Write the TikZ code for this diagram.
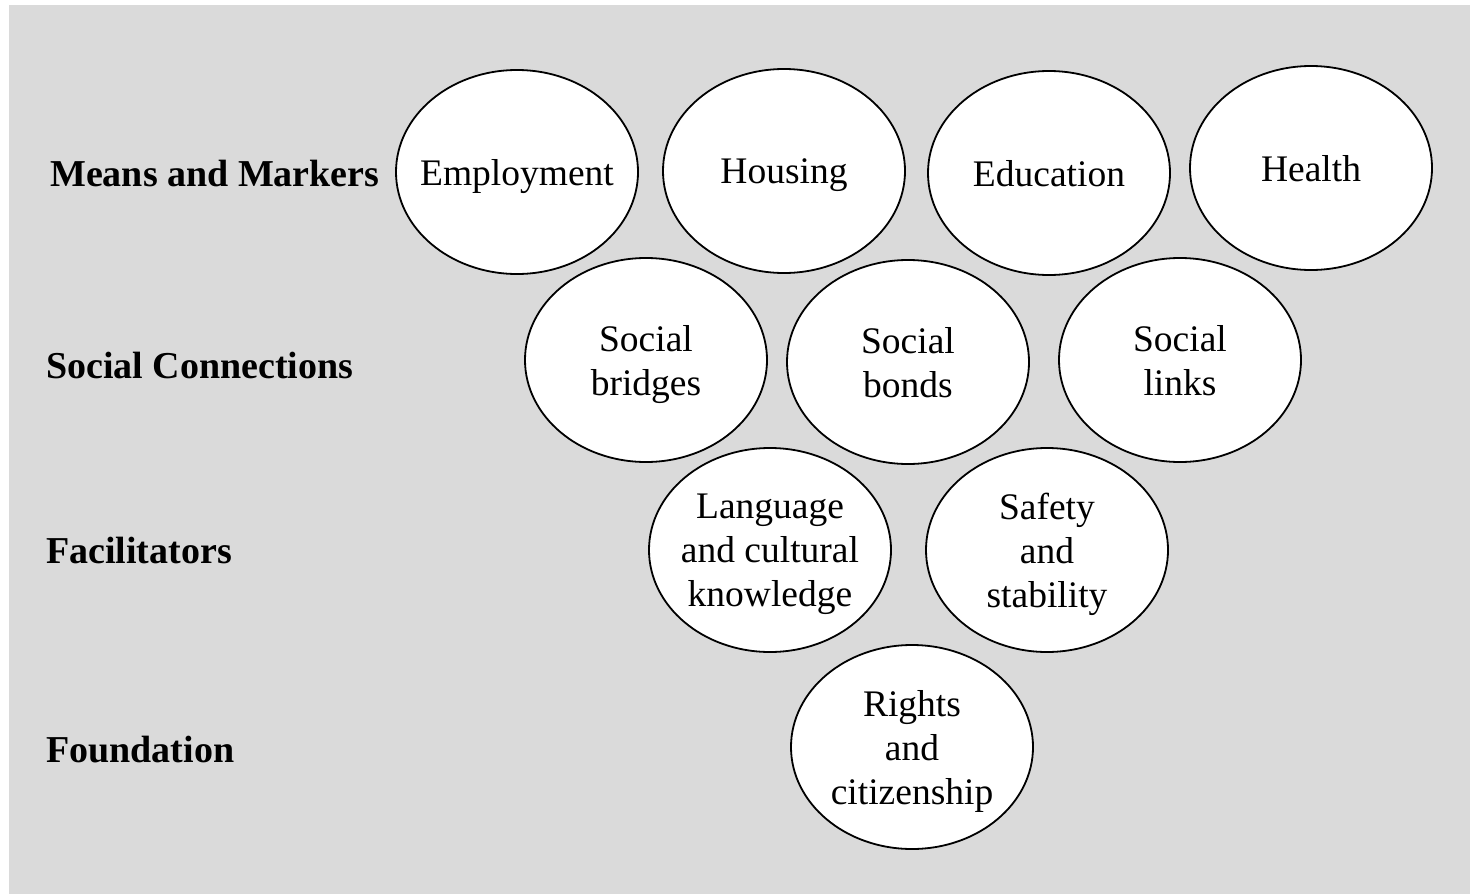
\documentclass[tikz,border=0pt]{standalone}
\usepackage{fontspec}
\setmainfont{Liberation Serif}
\usetikzlibrary{shapes.geometric}
\definecolor{panelgray}{RGB}{218,218,218}

\begin{document}
\begin{tikzpicture}[x=1pt,y=-1pt,
	bubble/.style={draw,ellipse,fill=white,line width=1.8pt,minimum width=242pt,minimum height=204pt,inner xsep=-20pt,inner ysep=0pt,text depth=0pt,align=center,font=\fontsize{37.5}{44}\selectfont},
	rowlabel/.style={anchor=west,inner sep=0pt,font=\fontsize{38}{44}\selectfont\bfseries}]
	
	\useasboundingbox (0,0) rectangle (1470,894);
	\fill[white] (0,0) rectangle (1470,894);
	\fill[panelgray] (9,5) rectangle (1470,894);
	
	% levels
	\node[rowlabel] (means) at (50,174) {Means and Markers};
	\node[rowlabel] (connections) at (46,365) {Social Connections};
	\node[rowlabel] (facilitators) at (46,550) {Facilitators};
	\node[rowlabel] (foundation) at (46,750) {Foundation};
	
	% domains
	\foreach \name/\pos/\txt in {employment/{517,172}/Employment, housing/{784,171}/Housing,
		education/{1049,173}/Education, health/{1311,168}/Health,
		bridges/{646,360}/{Social\\bridges}, bonds/{908,362}/{Social\\bonds}, links/{1180,360}/{Social\\links},
		language/{770,550}/{Language\\and cultural\\knowledge}, safety/{1047,550}/{Safety\\and\\stability},
		rights/{912,747}/{Rights\\and\\citizenship}}
		\node[bubble] (\name) at (\pos) {\txt};
	
\end{tikzpicture}
\end{document}
